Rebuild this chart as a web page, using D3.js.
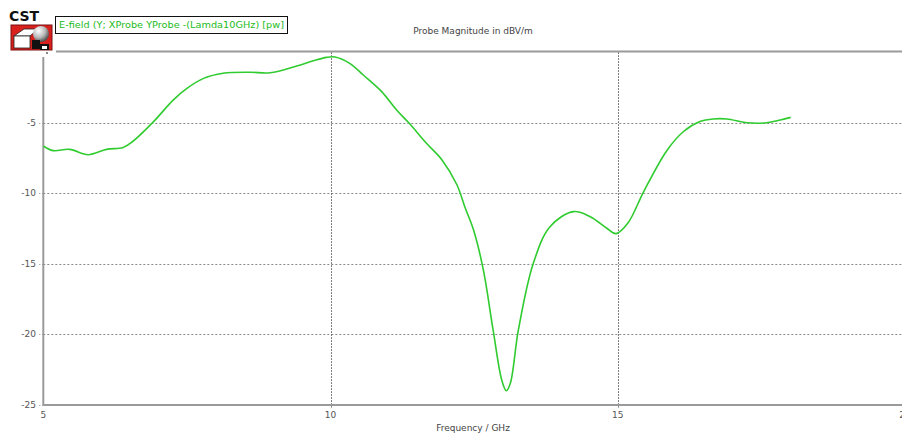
<!DOCTYPE html>
<html>
<head>
<meta charset="utf-8">
<script src="https://cdn.jsdelivr.net/npm/d3@7"></script>
<style>
  html, body { margin: 0; padding: 0; background: #fff; }
  svg { display: block; }
  text { font-family: "DejaVu Sans", Verdana, sans-serif; }
</style>
</head>
<body>
<svg id="chart" width="902" height="433"></svg>
<script>
// Probe E-field magnitude vs frequency
const freqGHz = [5.00, 5.17, 5.46, 5.78, 6.10, 6.39, 6.55, 6.92, 7.26, 7.50, 7.79, 8.13, 8.60, 8.95,
  9.41, 9.70, 9.93, 10.08, 10.34, 10.57, 10.89, 11.15, 11.37, 11.67, 11.94, 12.20, 12.34, 12.49,
  12.66, 12.83, 12.98, 13.06, 13.13, 13.27, 13.53, 13.82, 14.23, 14.52, 14.81, 14.97, 15.18,
  15.45, 15.85, 16.14, 16.43, 16.66, 16.90, 17.25, 17.59, 17.83, 18.01];
const magnitudeDb = [-6.65, -6.98, -6.89, -7.27, -6.89, -6.75, -6.35, -4.92, -3.39, -2.56, -1.85, -1.49, -1.42, -1.45,
  -0.97, -0.60, -0.36, -0.33, -0.80, -1.61, -2.79, -4.10, -5.04, -6.46, -7.64, -9.40, -11.0, -12.61,
  -15.45, -19.71, -23.26, -24.02, -23.49, -19.71, -14.98, -12.38, -11.31, -11.67, -12.49, -12.87, -12.10,
  -9.90, -7.00, -5.64, -4.92, -4.73, -4.73, -5.00, -5.00, -4.80, -4.62];
const xTicks = [5, 10, 15, 20];
const xTickLabels = ["5", "10", "15", "20"];
const yTicks = [-5, -10, -15, -20, -25];
const yTickLabels = ["-5", "-10", "-15", "-20", "-25"];
const legendLabel = "E-field (Y; XProbe YProbe -(Lamda10GHz) [pw]";
const chartTitle = "Probe Magnitude in dBV/m";
const xAxisTitle = "Frequency / GHz";

const svg = d3.select("#chart");
const x = d3.scaleLinear().domain([5, 20]).range([43.3, 905]);
const y = d3.scaleLinear().domain([-25, 0]).range([404.5, 52.3]);

const gridColor = "#8a8a8a";
const axisColor = "#9a9a9a";
const labelColor = "#555";

// horizontal grid lines
svg.append("g").selectAll("line").data(yTicks.filter(v => v > -25)).join("line")
  .attr("x1", x(5)).attr("x2", 902)
  .attr("y1", d => Math.round(y(d)) + 0.5).attr("y2", d => Math.round(y(d)) + 0.5)
  .attr("stroke", gridColor).attr("stroke-width", 1).attr("stroke-dasharray", "2,2");

// vertical grid lines
svg.append("g").selectAll("line").data(xTicks.filter(v => v > 5 && v < 20)).join("line")
  .attr("x1", d => Math.round(x(d)) + 0.5).attr("x2", d => Math.round(x(d)) + 0.5)
  .attr("y1", y(0)).attr("y2", y(-25) + 3)
  .attr("stroke", "#555").attr("stroke-width", 1).attr("stroke-dasharray", "1.5,1.5");

// frame: top line, left axis, bottom axis
svg.append("line").attr("x1", 56).attr("x2", 902).attr("y1", 51.5).attr("y2", 51.5)
  .attr("stroke", axisColor).attr("stroke-width", 2);
svg.append("line").attr("x1", x(5)).attr("x2", x(5)).attr("y1", 57).attr("y2", y(-25) + 1)
  .attr("stroke", axisColor).attr("stroke-width", 2);
svg.append("line").attr("x1", x(5)).attr("x2", 902).attr("y1", y(-25) + 0.5).attr("y2", y(-25) + 0.5)
  .attr("stroke", axisColor).attr("stroke-width", 2);

// y ticks and labels
const yAxis = svg.append("g");
yAxis.selectAll("line").data(yTicks).join("line")
  .attr("x1", x(5) - 4).attr("x2", x(5))
  .attr("y1", d => Math.round(y(d)) + 0.5).attr("y2", d => Math.round(y(d)) + 0.5)
  .attr("stroke", gridColor).attr("stroke-dasharray", "1,2");
yAxis.selectAll("text").data(yTicks).join("text")
  .attr("x", 36).attr("y", d => y(d))
  .attr("dy", "0.35em").attr("text-anchor", "end")
  .attr("font-size", 9).attr("fill", labelColor)
  .text((d, i) => yTickLabels[i]);

// x tick labels
svg.append("g").selectAll("text").data(xTicks).join("text")
  .attr("x", d => x(d)).attr("y", 415)
  .attr("dy", "0.35em").attr("text-anchor", "middle")
  .attr("font-size", 9).attr("fill", labelColor)
  .text((d, i) => xTickLabels[i]);

svg.append("text").attr("x", 473).attr("y", 428).attr("dy", "0.35em")
  .attr("text-anchor", "middle").attr("font-size", 9).attr("fill", "#444")
  .text(xAxisTitle);

svg.append("text").attr("x", 473).attr("y", 31).attr("dy", "0.35em")
  .attr("text-anchor", "middle").attr("font-size", 9).attr("fill", "#444")
  .text(chartTitle);

// data curve
const line = d3.line()
  .x((d, i) => x(freqGHz[i]))
  .y(d => y(d))
  .curve(d3.curveCatmullRom.alpha(0.5));
svg.append("path").datum(magnitudeDb)
  .attr("d", line)
  .attr("fill", "none").attr("stroke", "#2fcb2f").attr("stroke-width", 1.6);

// legend box
const legend = svg.append("g");
legend.append("rect").attr("x", 55.5).attr("y", 16.5).attr("width", 232).attr("height", 17)
  .attr("fill", "#fff").attr("stroke", "#111").attr("stroke-width", 1);
legend.append("text").attr("x", 59).attr("y", 25).attr("dy", "0.35em")
  .attr("font-size", 9).attr("fill", "#22bb22")
  .attr("textLength", 225).attr("lengthAdjust", "spacingAndGlyphs")
  .text(legendLabel);

// product logo
const logo = svg.append("g");
logo.append("text").attr("x", 9).attr("y", 20.5)
  .attr("font-family", "'Liberation Sans', Arial, sans-serif")
  .attr("font-weight", "bold").attr("font-size", 14).attr("fill", "#111")
  .text("CST");
logo.append("rect").attr("x", 11).attr("y", 25).attr("width", 41).attr("height", 25)
  .attr("fill", "#d8201c").attr("stroke", "#7a1010").attr("stroke-width", 1);
const grad = svg.append("defs").append("radialGradient").attr("id", "sph")
  .attr("cx", "35%").attr("cy", "30%").attr("r", "70%");
grad.append("stop").attr("offset", "0%").attr("stop-color", "#ffffff");
grad.append("stop").attr("offset", "60%").attr("stop-color", "#b8b8b8");
grad.append("stop").attr("offset", "100%").attr("stop-color", "#555");
logo.append("path").attr("d", "M14,36 L24,29 L38,29 L30,36 Z").attr("fill", "#fff").attr("stroke", "#222").attr("stroke-width", 0.8);
logo.append("rect").attr("x", 14).attr("y", 36).attr("width", 16).attr("height", 12)
  .attr("fill", "#fff").attr("stroke", "#222").attr("stroke-width", 0.8);
logo.append("circle").attr("cx", 41).attr("cy", 34).attr("r", 8).attr("fill", "url(#sph)");
logo.append("rect").attr("x", 32).attr("y", 40).attr("width", 8).attr("height", 9).attr("fill", "#111");
logo.append("rect").attr("x", 40).attr("y", 44).attr("width", 9).attr("height", 6).attr("fill", "#111");
logo.append("rect").attr("x", 42).attr("y", 46).attr("width", 5).attr("height", 3).attr("fill", "#fff");
logo.append("rect").attr("x", 46).attr("y", 52).attr("width", 2).attr("height", 2).attr("fill", "#888");
</script>
</body>
</html>
